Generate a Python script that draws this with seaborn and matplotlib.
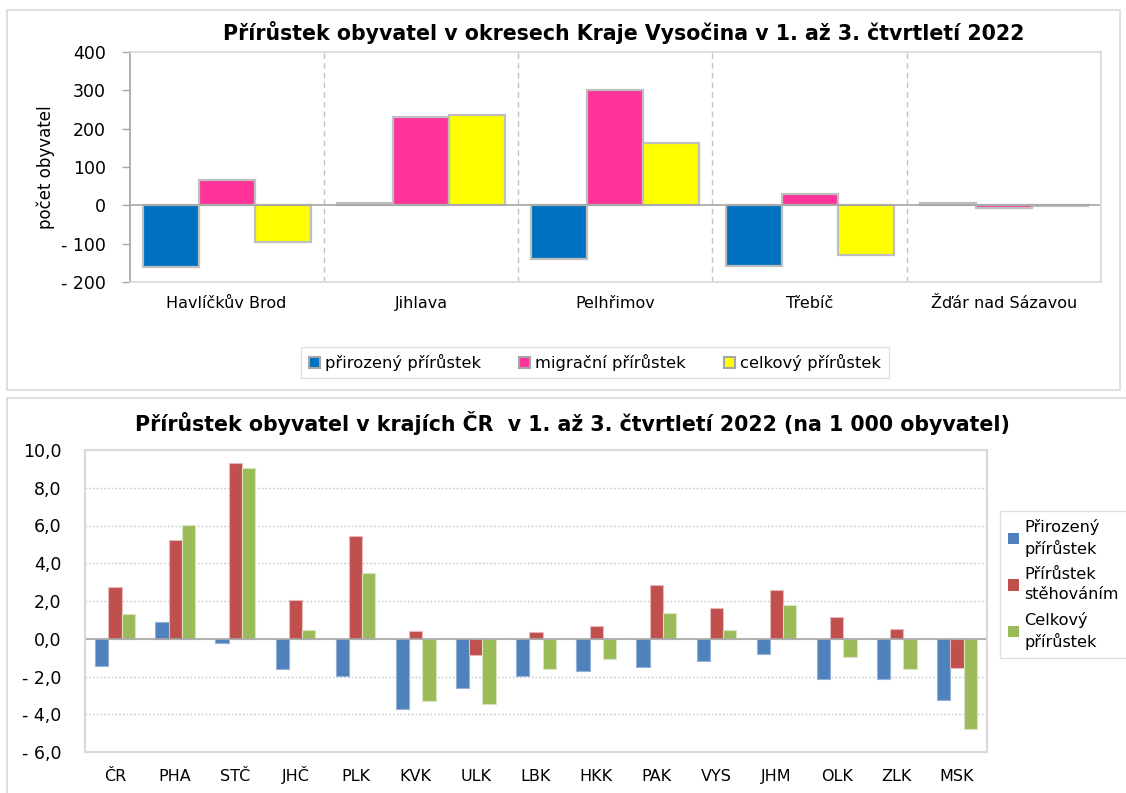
import matplotlib
matplotlib.use("Agg")
import matplotlib.pyplot as plt
import matplotlib.ticker as mticker
from matplotlib.patches import Rectangle, Patch
import seaborn as sns
import pandas as pd

# ---------------- data ----------------
districts = ['Havlíčkův Brod', 'Jihlava', 'Pelhřimov', 'Třebíč', 'Žďár nad Sázavou']
natural_d = [-161, 6, -140, -158, 7]
migration_d = [65, 230, 302, 29, -8]
total_d = [-96, 236, 162, -129, -1]
series_top = ['přirozený přírůstek', 'migrační přírůstek', 'celkový přírůstek']

regions = ['ČR', 'PHA', 'STČ', 'JHČ', 'PLK', 'KVK', 'ULK', 'LBK', 'HKK', 'PAK',
           'VYS', 'JHM', 'OLK', 'ZLK', 'MSK']
natural_r = [-1.43, 0.87, -0.25, -1.61, -1.96, -3.72, -2.62, -1.95, -1.70, -1.52,
             -1.19, -0.81, -2.11, -2.12, -3.26]
migration_r = [2.73, 5.22, 9.31, 2.04, 5.42, 0.42, -0.87, 0.34, 0.65, 2.87,
               1.65, 2.58, 1.13, 0.53, -1.56]
total_r = [1.29, 6.05, 9.04, 0.44, 3.47, -3.31, -3.45, -1.58, -1.06, 1.35,
           0.46, 1.79, -0.97, -1.59, -4.80]
series_bot = ['Přirozený\npřírůstek', 'Přírůstek\nstěhováním', 'Celkový\npřírůstek']

top_colors = ['#0070C0', '#FF3399', '#FFFF00']
bot_colors = ['#4F81BD', '#C0504D', '#9BBB59']
bot_edges = ['#95B3D7', '#E6B9B8', '#D7E4BD']

# ---------------- style ----------------
sns.set_theme(style='white')
plt.rcParams['font.family'] = ['DejaVu Sans']
plt.rcParams['text.color'] = 'black'
plt.rcParams['axes.labelcolor'] = 'black'
plt.rcParams['xtick.color'] = 'black'
plt.rcParams['ytick.color'] = 'black'

W, H = 1126, 793
fig = plt.figure(figsize=(W / 100, H / 100), dpi=100)

def fx(px):
    return px / W

def fy(py):
    return 1 - py / H

# panel borders
fig.patches.append(Rectangle((fx(7), fy(390)), fx(1113), 380 / H, transform=fig.transFigure,
                             fill=False, edgecolor='#D9D9D9', linewidth=1.2))
fig.patches.append(Rectangle((fx(7), fy(800)), fx(1130), 402 / H, transform=fig.transFigure,
                             fill=False, edgecolor='#D9D9D9', linewidth=1.2))

# ---------------- top chart ----------------
df_top = pd.DataFrame({
    'okres': districts * 3,
    'serie': [s for s in series_top for _ in districts],
    'hodnota': natural_d + migration_d + total_d,
})
ax1 = fig.add_axes([fx(129.5), fy(282), fx(1101 - 129.5), 230 / H])
sns.barplot(data=df_top, x='okres', y='hodnota', hue='serie', order=districts,
            hue_order=series_top, palette=top_colors, width=0.865, gap=0,
            edgecolor='#BFBFBF', linewidth=1.6, errorbar=None, ax=ax1, legend=False,
            saturation=1)
ax1.set_ylim(-200, 400)
ax1.set_xlim(-0.5, len(districts) - 0.5)
ax1.set_yticks([-200, -100, 0, 100, 200, 300, 400])
ax1.yaxis.set_major_formatter(mticker.FuncFormatter(
    lambda v, p: f"- {abs(v):.0f}" if v < 0 else f"{v:.0f}"))
ax1.set_xlabel('')
ax1.set_ylabel('počet obyvatel', fontsize=12, labelpad=4)
ax1.tick_params(axis='y', labelsize=12.5, length=6, color='#A6A6A6', labelcolor='black',
                direction='out', width=1, pad=11, left=True)
ax1.tick_params(axis='x', labelsize=11.5, length=0, pad=19)
ax1.set_xticks(range(len(districts)))
ax1.set_xticklabels(districts, va='baseline')
ax1.set_xticks([i + 0.5 for i in range(len(districts))], minor=True)
ax1.tick_params(axis='x', which='minor', length=0)
ax1.grid(which='minor', axis='x', linestyle=(0, (4, 3)), color='#B8C4D6', linewidth=1)
ax1.grid(which='major', axis='both', visible=False)
ax1.axhline(0, color='#A6A6A6', linewidth=1.2, zorder=1)
for s in ['top', 'right', 'bottom']:
    ax1.spines[s].set_color('#D9D9D9')
ax1.spines['left'].set_color('#A6A6A6')
ax1.set_axisbelow(True)

fig.text(fx(624), fy(32), 'Přírůstek obyvatel v okresech Kraje Vysočina v 1. až 3. čtvrtletí 2022',
         ha='center', va='center', fontsize=14.8, fontweight='bold')

handles_top = [Patch(facecolor=c, edgecolor='#A6A6A6', linewidth=1.5) for c in top_colors]
leg1 = fig.legend(handles_top, series_top, loc='center', bbox_to_anchor=(fx(595), fy(362.5)),
                  ncol=3, fontsize=11.8, frameon=True, fancybox=False, edgecolor='#D9D9D9',
                  handlelength=0.7, handleheight=0.7, handletextpad=0.3, columnspacing=2.3,
                  borderpad=0.45)
leg1.get_frame().set_linewidth(1)

# ---------------- bottom chart ----------------
df_bot = pd.DataFrame({
    'kraj': regions * 3,
    'serie': [s for s in series_bot for _ in regions],
    'hodnota': natural_r + migration_r + total_r,
})
ax2 = fig.add_axes([fx(85), fy(752), fx(987 - 85), 302 / H])
sns.barplot(data=df_bot, x='kraj', y='hodnota', hue='serie', order=regions,
            hue_order=series_bot, palette=bot_colors, width=0.66, gap=0,
            linewidth=0.8, errorbar=None, ax=ax2, legend=False, saturation=1)
for cont, ec in zip(ax2.containers, bot_edges):
    for bar in cont:
        bar.set_edgecolor(ec)
ax2.set_ylim(-6, 10)
ax2.set_xlim(-0.5, len(regions) - 0.5)
ax2.set_yticks([-6, -4, -2, 0, 2, 4, 6, 8, 10])
ax2.yaxis.set_major_formatter(mticker.FuncFormatter(
    lambda v, p: ("- " if v < 0 else "") + f"{abs(v):.1f}".replace('.', ',')))
ax2.set_xlabel('')
ax2.set_ylabel('')
ax2.tick_params(axis='y', labelsize=12.5, length=0, pad=17)
ax2.tick_params(axis='x', labelsize=11.5, length=0, pad=21)
ax2.set_xticks(range(len(regions)))
ax2.set_xticklabels(regions, va='baseline')
ax2.grid(axis='y', linestyle=(0, (1.2, 1.5)), color='#C8C8C8', linewidth=1)
ax2.grid(axis='x', visible=False)
ax2.axhline(0, color='#A6A6A6', linewidth=1.2, zorder=1)
for s in ax2.spines.values():
    s.set_color('#D9D9D9')
    s.set_linewidth(1.5)
ax2.set_axisbelow(True)

fig.text(fx(572), fy(423), 'Přírůstek obyvatel v krajích ČR  v 1. až 3. čtvrtletí 2022 (na 1 000 obyvatel)',
         ha='center', va='center', fontsize=14.8, fontweight='bold')

handles_bot = [Patch(facecolor=c, edgecolor='none') for c in bot_colors]
leg2 = fig.legend(handles_bot, series_bot, loc='upper left', bbox_to_anchor=(fx(1000), fy(511)),
                  fontsize=11.6, frameon=True, fancybox=False, edgecolor='#D9D9D9',
                  handlelength=0.7, handleheight=0.7, handletextpad=0.3, labelspacing=0.65,
                  borderpad=0.5, borderaxespad=0)
for t in leg2.get_texts():
    t.set_linespacing(1.35)
leg2.get_frame().set_linewidth(1)

fig.savefig('out.png', dpi=100, facecolor='white')
